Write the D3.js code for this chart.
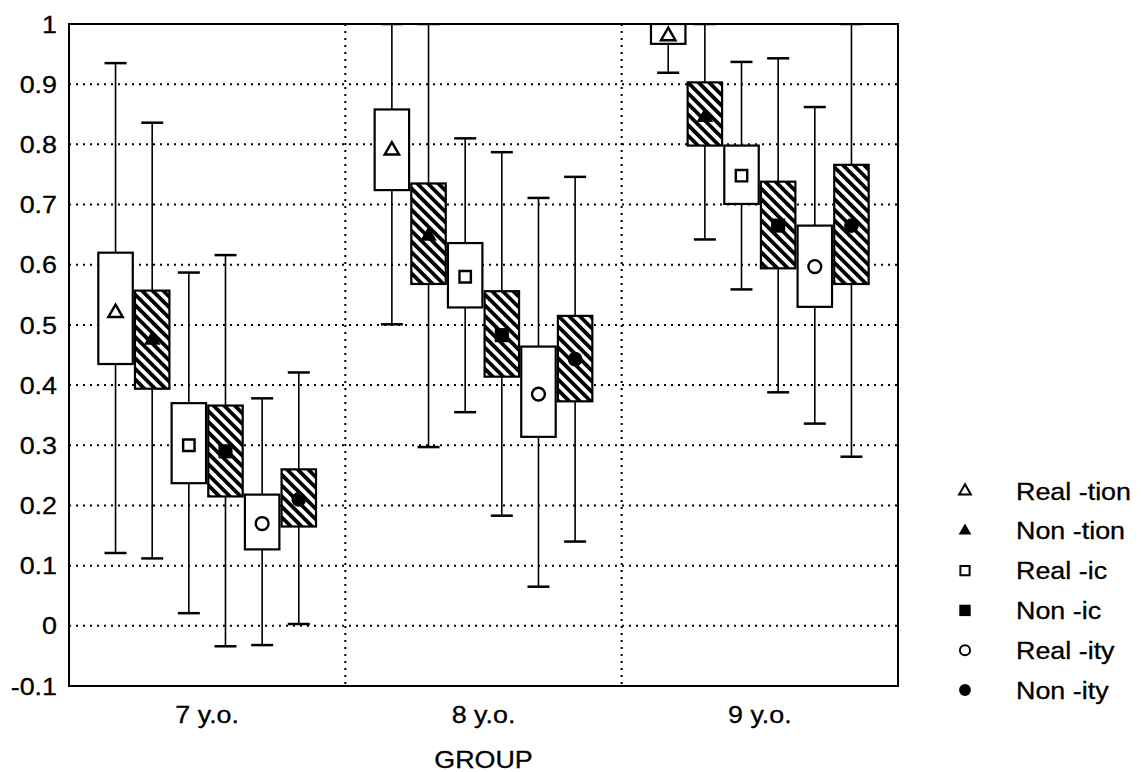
<!DOCTYPE html>
<html>
<head>
<meta charset="utf-8">
<script src="https://cdn.jsdelivr.net/npm/d3@7"></script>
<style>
  body { margin: 0; background: #fff; }
  svg { display: block; font-family: "Liberation Sans", Arial, sans-serif; }
  text { font-size: 24px; fill: #000; stroke: #000; stroke-width: 0.3px; }
</style>
</head>
<body>
<div id="chart"></div>
<script>
const groups = ["7 y.o.", "8 y.o.", "9 y.o."];
const series = ["Real -tion", "Non -tion", "Real -ic", "Non -ic", "Real -ity", "Non -ity"];
const yTicks = [1, 0.9, 0.8, 0.7, 0.6, 0.5, 0.4, 0.3, 0.2, 0.1, 0, -0.1];

// one row per group, one value per series
const whiskerHigh = [
  [0.935, 0.836, 0.587, 0.616, 0.378, 0.421],
  [1.0, 1.0, 0.810, 0.787, 0.711, 0.746],
  [1.0, 1.0, 0.937, 0.943, 0.862, 1.0]
];
const boxHigh = [
  [0.620, 0.557, 0.370, 0.366, 0.218, 0.260],
  [0.858, 0.735, 0.636, 0.556, 0.464, 0.515],
  [1.0, 0.903, 0.798, 0.738, 0.665, 0.766]
];
const mid = [
  [0.52, 0.475, 0.30, 0.29, 0.17, 0.21],
  [0.79, 0.648, 0.58, 0.483, 0.385, 0.443],
  [0.98, 0.845, 0.748, 0.665, 0.597, 0.665]
];
const boxLow = [
  [0.435, 0.394, 0.237, 0.215, 0.127, 0.165],
  [0.724, 0.568, 0.529, 0.414, 0.314, 0.373],
  [0.967, 0.798, 0.701, 0.594, 0.530, 0.568]
];
const whiskerLow = [
  [0.121, 0.112, 0.021, -0.034, -0.032, 0.003],
  [0.501, 0.297, 0.355, 0.183, 0.065, 0.140],
  [0.919, 0.642, 0.559, 0.388, 0.336, 0.281]
];

const width = 1141, height = 772;
const plotLeft = 69, plotRight = 898, plotTop = 24, plotBottom = 686;
const stretch = 1.12; // the scanned lettering is wide

const svg = d3.select("#chart").append("svg")
  .attr("width", width)
  .attr("height", height);

const defs = svg.append("defs");
const hatch = defs.append("pattern")
  .attr("id", "hatch")
  .attr("patternUnits", "userSpaceOnUse")
  .attr("width", 7.5)
  .attr("height", 7.5)
  .attr("patternTransform", "rotate(-45)");
hatch.append("rect").attr("width", 7.5).attr("height", 7.5).attr("fill", "#fff");
hatch.append("rect").attr("width", 3.8).attr("height", 7.5).attr("fill", "#000");

defs.append("clipPath").attr("id", "plot")
  .append("rect").attr("x", plotLeft).attr("y", plotTop)
  .attr("width", plotRight - plotLeft).attr("height", plotBottom - plotTop);

const x = d3.scaleBand().domain(groups).range([plotLeft, plotRight]);
const xs = d3.scaleBand().domain(series).range([0, x.bandwidth()])
  .paddingInner(0.06).paddingOuter(0.8);
const y = d3.scaleLinear().domain([-0.1, 1]).range([plotBottom, plotTop]);

const at = (px, py) => `translate(${px},${py}) scale(${stretch},1)`;

// grid
const grid = svg.append("g").attr("stroke", "#000").attr("stroke-width", 2)
  .attr("stroke-dasharray", "2,5");
grid.selectAll("line.h").data(yTicks.filter(t => t > -0.1 && t < 1)).join("line")
  .attr("class", "h")
  .attr("x1", plotLeft).attr("x2", plotRight)
  .attr("y1", d => y(d)).attr("y2", d => y(d));
grid.selectAll("line.v").data(groups.slice(1)).join("line")
  .attr("class", "v")
  .attr("x1", d => x(d)).attr("x2", d => x(d))
  .attr("y1", plotTop).attr("y2", plotBottom);

// y labels
svg.append("g").selectAll("text").data(yTicks).join("text")
  .attr("transform", d => at(57, y(d)))
  .attr("dy", "0.36em")
  .attr("text-anchor", "end")
  .text(d => String(d));

// x labels
svg.append("g").selectAll("text").data(groups).join("text")
  .attr("transform", d => at(x(d) + x.bandwidth() / 2, 723))
  .attr("text-anchor", "middle")
  .text(d => d);
svg.append("text")
  .attr("transform", at(x(groups[1]) + x.bandwidth() / 2, 768))
  .attr("text-anchor", "middle").text("GROUP");

const symbols = [d3.symbolTriangle, d3.symbolTriangle, d3.symbolSquare, d3.symbolSquare, d3.symbolCircle, d3.symbolCircle];
const plotSizes = [90, 120, 130, 200, 130, 170];
const hatched = s => s % 2 === 1;

// boxes
const plot = svg.append("g").attr("clip-path", "url(#plot)");
const items = [];
groups.forEach((g, gi) => series.forEach((s, si) => items.push({ g, gi, s, si })));

const item = plot.selectAll("g.item").data(items).join("g")
  .attr("class", "item")
  .attr("transform", d => `translate(${x(d.g) + xs(d.s)},0)`);
const bw = xs.bandwidth();

item.append("line")
  .attr("x1", bw / 2).attr("x2", bw / 2)
  .attr("y1", d => y(whiskerHigh[d.gi][d.si])).attr("y2", d => y(whiskerLow[d.gi][d.si]))
  .attr("stroke", "#000").attr("stroke-width", 1.6);
item.append("line")
  .attr("x1", bw / 2 - 11).attr("x2", bw / 2 + 11)
  .attr("y1", d => y(whiskerHigh[d.gi][d.si])).attr("y2", d => y(whiskerHigh[d.gi][d.si]))
  .attr("stroke", "#000").attr("stroke-width", 2.5);
item.append("line")
  .attr("x1", bw / 2 - 11).attr("x2", bw / 2 + 11)
  .attr("y1", d => y(whiskerLow[d.gi][d.si])).attr("y2", d => y(whiskerLow[d.gi][d.si]))
  .attr("stroke", "#000").attr("stroke-width", 2.5);
item.append("rect")
  .attr("x", 0).attr("width", bw)
  .attr("y", d => y(boxHigh[d.gi][d.si]))
  .attr("height", d => y(boxLow[d.gi][d.si]) - y(boxHigh[d.gi][d.si]))
  .attr("fill", d => hatched(d.si) ? "url(#hatch)" : "#fff")
  .attr("stroke", "#000").attr("stroke-width", 2.2);
item.append("path")
  .attr("transform", d => `translate(${bw / 2},${y(mid[d.gi][d.si])})`)
  .attr("d", d => d3.symbol(symbols[d.si], plotSizes[d.si])())
  .attr("fill", d => hatched(d.si) ? "#000" : "#fff")
  .attr("stroke", "#000").attr("stroke-width", d => hatched(d.si) ? 0 : 2.4);

// frame
svg.append("rect").attr("x", plotLeft).attr("y", plotTop)
  .attr("width", plotRight - plotLeft).attr("height", plotBottom - plotTop)
  .attr("fill", "none").attr("stroke", "#000").attr("stroke-width", 2);

// legend
const legendSizes = [60, 70, 85, 130, 80, 110];
const legend = svg.append("g").selectAll("g").data(series).join("g")
  .attr("transform", (d, i) => `translate(965,${491 + i * 39.8})`);
legend.append("path")
  .attr("d", (d, i) => d3.symbol(symbols[i], legendSizes[i])())
  .attr("fill", (d, i) => hatched(i) ? "#000" : "#fff")
  .attr("stroke", "#000").attr("stroke-width", (d, i) => hatched(i) ? 0 : 2);
legend.append("text")
  .attr("transform", at(51, 0))
  .attr("dy", "0.36em")
  .text(d => d);
</script>
</body>
</html>
